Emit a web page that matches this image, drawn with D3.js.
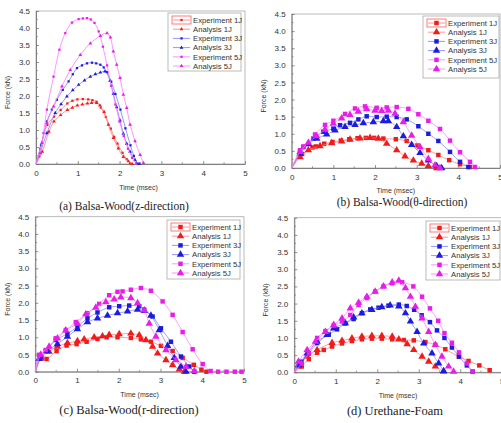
<!DOCTYPE html>
<html><head><meta charset="utf-8">
<script src="https://cdn.jsdelivr.net/npm/d3@7"></script>
<style>body{margin:0;background:#fff}svg{display:block}</style>
</head><body><svg id="c" width="501" height="423"></svg>
<script>
const xTicks=[0,1,2,3,4,5];
const yTicks=[0,0.5,1.0,1.5,2.0,2.5,3.0,3.5,4.0,4.5];
const seriesNames=["Experiment 1J","Analysis 1J","Experiment 3J","Analysis 3J","Experiment 5J","Analysis 5J"];
const captions=["(a) Balsa-Wood(z-direction)","(b) Balsa-Wood(\u03b8-direction)","(c) Balsa-Wood(r-direction)","(d) Urethane-Foam"];
const xLabel="Time (msec)", yLabel="Force (kN)";

// (a) Balsa-Wood z-direction
const aExp1=[[0,0],[0.1,0.45],[0.27,1.15],[0.43,1.39],[0.59,1.59],[0.75,1.78],[0.87,1.86],[0.99,1.9],[1.12,1.91],[1.25,1.9],[1.35,1.88],[1.45,1.83],[1.55,1.66],[1.67,1.38],[1.79,1.04],[1.87,0.8],[1.95,0.6],[2.07,0.33],[2.17,0.14],[2.25,0.02]];
const aAna1=[[0,0],[0.15,0.36],[0.31,0.95],[0.43,1.25],[0.59,1.44],[0.75,1.59],[0.87,1.66],[0.99,1.72],[1.11,1.75],[1.23,1.78],[1.33,1.8],[1.45,1.8],[1.53,1.72],[1.63,1.53],[1.73,1.16],[1.85,0.77],[1.97,0.46],[2.09,0.21],[2.21,0.08],[2.3,0]];
const aExp3=[[0,0],[0.12,0.55],[0.26,1.25],[0.38,1.6],[0.5,1.89],[0.64,2.18],[0.78,2.43],[0.88,2.64],[0.98,2.82],[1.1,2.9],[1.22,2.96],[1.34,2.98],[1.44,2.96],[1.54,2.92],[1.62,2.84],[1.7,2.7],[1.8,2.42],[1.9,2.06],[2.02,1.6],[2.14,1.05],[2.26,0.55],[2.34,0.24],[2.42,0.02]];
const aAna3=[[0,0],[0.1,0.32],[0.26,0.91],[0.46,1.5],[0.6,1.76],[0.74,1.99],[0.88,2.17],[1.02,2.33],[1.16,2.46],[1.3,2.57],[1.42,2.64],[1.54,2.69],[1.65,2.72],[1.77,2.45],[1.85,2.06],[1.93,1.67],[2.01,1.28],[2.09,0.89],[2.17,0.6],[2.25,0.36],[2.37,0.11],[2.47,0]];
const aExp5=[[0,0],[0.08,0.22],[0.18,0.91],[0.26,1.6],[0.42,2.57],[0.56,3.36],[0.7,3.85],[0.86,4.16],[1.02,4.26],[1.12,4.28],[1.22,4.29],[1.31,4.25],[1.4,4.15],[1.5,3.9],[1.6,3.45],[1.7,2.9],[1.8,2.3],[1.9,1.75],[2.0,1.25],[2.1,0.82],[2.2,0.45],[2.3,0.18],[2.4,0.02]];
const aAna5=[[0,0],[0.14,0.62],[0.26,1.2],[0.42,1.69],[0.62,2.28],[0.82,2.77],[1.06,3.21],[1.3,3.55],[1.54,3.77],[1.7,3.85],[1.78,3.72],[1.85,3.31],[1.93,2.92],[2.01,2.53],[2.09,2.04],[2.17,1.65],[2.25,1.16],[2.37,0.67],[2.49,0.27],[2.57,0.03]];

// (b) Balsa-Wood theta-direction
const bExp1=[[0,0],[0.2,0.38],[0.25,0.41],[0.5,0.6],[0.58,0.63],[0.78,0.71],[0.98,0.76],[1.18,0.8],[1.38,0.84],[1.58,0.87],[1.78,0.88],[1.98,0.88],[2.2,0.86],[2.5,0.84],[2.76,0.79],[3.02,0.66],[3.28,0.52],[3.52,0.38],[3.78,0.23],[4.04,0.11],[4.28,0.03]];
const bAna1=[[0,0],[0.2,0.32],[0.4,0.52],[0.68,0.64],[0.96,0.73],[1.2,0.78],[1.4,0.83],[1.64,0.87],[1.88,0.88],[2.08,0.86],[2.28,0.71],[2.52,0.52],[2.72,0.34],[2.92,0.22],[3.12,0.13],[3.28,0.06],[3.48,0]];
const bExp3=[[0,0],[0.2,0.47],[0.28,0.61],[0.52,0.86],[0.76,1.06],[1.0,1.15],[1.16,1.25],[1.4,1.32],[1.6,1.42],[1.8,1.51],[2.04,1.49],[2.28,1.5],[2.52,1.49],[2.76,1.42],[3.04,1.22],[3.28,1.0],[3.52,0.79],[3.8,0.47],[4.04,0.18],[4.24,0.03]];
const bAna3=[[0,0],[0.2,0.42],[0.4,0.7],[0.6,0.86],[0.84,0.98],[1.04,1.1],[1.28,1.2],[1.52,1.26],[1.72,1.31],[1.96,1.34],[2.2,1.37],[2.32,1.37],[2.52,1.2],[2.68,0.93],[2.88,0.68],[3.08,0.44],[3.28,0.22],[3.48,0.06],[3.6,0]];
const bExp5=[[0,0],[0.2,0.52],[0.28,0.63],[0.56,0.98],[0.8,1.26],[1.0,1.38],[1.28,1.58],[1.52,1.74],[1.76,1.8],[2.04,1.76],[2.28,1.77],[2.52,1.78],[2.8,1.73],[3.04,1.57],[3.28,1.38],[3.56,1.14],[3.8,0.8],[4.04,0.46],[4.28,0.18],[4.4,0.03]];
const bAna5=[[0,0],[0.2,0.47],[0.4,0.74],[0.6,0.93],[0.8,1.12],[1.0,1.3],[1.2,1.45],[1.4,1.55],[1.6,1.65],[1.8,1.72],[2.0,1.68],[2.16,1.67],[2.32,1.68],[2.48,1.59],[2.68,1.34],[2.88,0.95],[3.08,0.61],[3.28,0.27],[3.44,0.08],[3.56,0]];

// (c) Balsa-Wood r-direction
const cExp1=[[0,0],[0.15,0.39],[0.27,0.37],[0.51,0.6],[0.75,0.76],[0.99,0.8],[1.23,0.87],[1.49,0.95],[1.71,1.0],[1.97,1.0],[2.29,0.98],[2.53,0.94],[2.77,0.87],[3.01,0.75],[3.29,0.6],[3.53,0.4],[3.8,0.2],[3.98,0.06],[4.1,0]];
const cAna1=[[0,0],[0.13,0.39],[0.33,0.58],[0.53,0.73],[0.77,0.83],[1.01,0.89],[1.17,0.94],[1.41,1.0],[1.61,1.03],[1.77,1.07],[2.01,1.09],[2.29,1.11],[2.49,1.06],[2.65,0.92],[2.81,0.73],[2.93,0.53],[3.13,0.34],[3.29,0.19],[3.45,0.07],[3.57,0]];
const cExp3=[[0,0],[0.13,0.44],[0.25,0.6],[0.49,0.92],[0.77,1.1],[1.01,1.31],[1.25,1.55],[1.49,1.72],[1.77,1.87],[2.01,1.9],[2.25,1.92],[2.49,1.9],[2.61,1.8],[2.81,1.6],[3.01,1.26],[3.25,0.87],[3.49,0.44],[3.69,0.15],[3.81,0]];
const cAna3=[[0,0],[0.09,0.37],[0.29,0.6],[0.53,0.8],[0.77,1.02],[1.01,1.24],[1.25,1.44],[1.49,1.55],[1.73,1.63],[1.97,1.7],[2.21,1.75],[2.45,1.8],[2.61,1.77],[2.77,1.63],[2.97,1.21],[3.17,0.75],[3.33,0.4],[3.49,0.15],[3.61,0]];
const cExp5=[[0,0],[0.09,0.49],[0.25,0.63],[0.49,0.97],[0.73,1.21],[0.97,1.44],[1.25,1.7],[1.53,1.97],[1.77,2.22],[1.97,2.32],[2.09,2.33],[2.29,2.38],[2.53,2.43],[2.77,2.35],[3.05,2.04],[3.29,1.65],[3.53,1.15],[3.77,0.65],[4.01,0.22],[4.2,0.02],[4.38,0],[4.58,0],[4.78,0],[4.94,0]];
const cAna5=[[0,0],[0.13,0.5],[0.33,0.73],[0.53,0.97],[0.73,1.2],[1.01,1.4],[1.21,1.67],[1.45,1.86],[1.69,2.02],[1.89,2.1],[2.05,2.16],[2.29,2.14],[2.45,1.99],[2.61,1.78],[2.73,1.4],[2.89,1.02],[3.13,0.63],[3.37,0.34],[3.61,0.15],[3.81,0.02]];

// (d) Urethane-Foam
const dExp1=[[0,0],[0.18,0.17],[0.35,0.38],[0.55,0.57],[0.71,0.65],[0.91,0.75],[1.15,0.84],[1.39,0.91],[1.63,0.96],[1.87,0.98],[2.11,0.98],[2.36,0.96],[2.64,0.94],[2.88,0.93],[3.16,0.88],[3.4,0.8],[3.64,0.67],[3.97,0.45],[4.2,0.33],[4.46,0.2],[4.71,0.06]];
const dAna1=[[0,0],[0.1,0.17],[0.31,0.46],[0.55,0.65],[0.91,0.86],[1.15,0.92],[1.39,0.99],[1.63,1.04],[1.87,1.06],[2.11,1.06],[2.36,1.04],[2.52,0.96],[2.72,0.82],[2.88,0.65],[3.08,0.46],[3.24,0.31],[3.4,0.17],[3.6,0.02]];
const dExp3=[[0,0],[0.18,0.31],[0.35,0.55],[0.55,0.85],[0.83,1.1],[1.03,1.25],[1.23,1.42],[1.43,1.55],[1.63,1.72],[1.83,1.83],[2.03,1.88],[2.27,1.94],[2.52,1.97],[2.71,1.93],[2.89,1.82],[3.07,1.66],[3.27,1.46],[3.44,1.22],[3.62,1.0],[3.8,0.72],[3.97,0.46],[4.16,0.2],[4.3,0.02]];
const dAna3=[[0,0],[0.1,0.21],[0.31,0.55],[0.55,0.89],[0.79,1.09],[0.95,1.28],[1.23,1.43],[1.43,1.6],[1.63,1.72],[1.87,1.82],[2.11,1.9],[2.31,1.95],[2.52,1.92],[2.68,1.72],[2.8,1.48],[2.96,1.18],[3.12,0.84],[3.32,0.55],[3.48,0.26],[3.6,0.04]];
const dExp5=[[0,0],[0.18,0.26],[0.35,0.55],[0.55,1.0],[0.75,1.2],[0.95,1.36],[1.15,1.48],[1.35,1.67],[1.55,1.96],[1.75,2.16],[1.95,2.35],[2.15,2.5],[2.36,2.59],[2.6,2.62],[2.87,2.5],[3.08,2.2],[3.27,1.86],[3.47,1.5],[3.62,1.14],[3.8,0.86],[3.97,0.58],[4.16,0.26],[4.3,0.02]];
const dAna5=[[0,0],[0.1,0.31],[0.31,0.65],[0.51,0.89],[0.75,1.18],[0.95,1.38],[1.15,1.57],[1.35,1.86],[1.55,2.03],[1.75,2.2],[1.95,2.35],[2.15,2.5],[2.36,2.62],[2.52,2.67],[2.68,2.45],[2.8,2.2],[2.92,1.91],[3.08,1.57],[3.24,1.18],[3.4,0.8],[3.56,0.46],[3.72,0.17],[3.84,0.02]];

const markerCols=["#f01c1c","#f01c1c","#1c1ce0","#1c1ce0","#e81ee8","#e81ee8"];
const lineCols=["#ff7a7a","#ff7a7a","#7a7aff","#7a7aff","#ff7aff","#ff7aff"];
const shapes=[d3.symbolSquare,d3.symbolTriangle,d3.symbolSquare,d3.symbolTriangle,d3.symbolSquare,d3.symbolTriangle];

const panels=[
 {px:[36,245],py:[164,11],data:[aExp1,aAna1,aExp3,aAna3,aExp5,aAna5],small:true,cap:captions[0],capPos:[124,210],capSize:11.5,timeY:190,forceX:10,leg:[168,13,73,58]},
 {px:[291.7,500],py:[168,14],data:[bExp1,bAna1,bExp3,bAna3,bExp5,bAna5],small:false,cap:captions[1],capPos:[402,206],capSize:11.5,timeY:193,forceX:266,leg:[423,16,76,62]},
 {px:[35.3,244],py:[371.7,216.7],data:[cExp1,cAna1,cExp3,cAna3,cExp5,cAna5],small:false,cap:captions[2],capPos:[129,414],capSize:12.5,timeY:397,forceX:10,leg:[167,220,73,59]},
 {px:[294.3,501.7],py:[372.3,217.7],data:[dExp1,dAna1,dExp3,dAna3,dExp5,dAna5],small:false,cap:captions[3],capPos:[395,415],capSize:12.5,timeY:398,forceX:268,leg:[426,221,74,59]}
];

const svg=d3.select("#c");
const font="Liberation Sans, Arial, sans-serif";

panels.forEach(p=>{
  const x=d3.scaleLinear().domain([0,5]).range(p.px);
  const y=d3.scaleLinear().domain([0,4.5]).range(p.py);
  const g=svg.append("g");
  g.append("rect").attr("x",p.px[0]).attr("y",p.py[1]).attr("width",p.px[1]-p.px[0]).attr("height",p.py[0]-p.py[1])
    .attr("fill","none").attr("stroke","#aaa").attr("stroke-width",0.8);
  const xa=d3.axisBottom(x).tickValues(xTicks).tickFormat(d3.format("d")).tickSizeInner(-3).tickSizeOuter(0).tickPadding(6);
  const gx=g.append("g").attr("transform",`translate(0,${p.py[0]})`).call(xa);
  const xMinor=d3.range(0.5,5,1);
  gx.selectAll(".mn").data(xMinor).enter().append("line").attr("x1",d=>x(d)).attr("x2",d=>x(d)).attr("y1",0).attr("y2",-1.8).attr("stroke","#777").attr("stroke-width",0.7);
  const ya=d3.axisLeft(y).tickValues(yTicks).tickFormat(d3.format(".1f")).tickSizeInner(-3).tickSizeOuter(0).tickPadding(6);
  const gy=g.append("g").attr("transform",`translate(${p.px[0]},0)`).call(ya);
  const yMinor=d3.range(0.25,4.5,0.5);
  gy.selectAll(".mn").data(yMinor).enter().append("line").attr("y1",d=>y(d)).attr("y2",d=>y(d)).attr("x1",0).attr("x2",1.8).attr("stroke","#777").attr("stroke-width",0.7);
  [gx,gy].forEach(a=>{
    a.select(".domain").attr("stroke","#666").attr("stroke-width",0.8);
    a.selectAll(".tick line").attr("stroke","#666").attr("stroke-width",0.7);
    a.selectAll("text").attr("font-family",font).attr("font-size",8).attr("fill","#333");
  });
  g.append("text").attr("x",(p.px[0]+p.px[1])/2-(p.small?2:0)).attr("y",p.timeY).attr("text-anchor","middle")
    .attr("font-family",font).attr("font-size",7).attr("fill","#333").text(xLabel);
  g.append("text").attr("transform",`translate(${p.forceX},${(p.py[0]+p.py[1])/2+5}) rotate(-90)`).attr("text-anchor","middle")
    .attr("font-family",font).attr("font-size",7).attr("fill","#333").text(yLabel);
  svg.append("text").attr("x",p.capPos[0]).attr("y",p.capPos[1]).attr("text-anchor","middle")
    .attr("font-family","Liberation Serif, Times New Roman, serif").attr("font-size",p.capSize).attr("fill","#222").text(p.cap);
  const line=d3.line().x(d=>x(d[0])).y(d=>y(d[1])).curve(d3.curveCatmullRom.alpha(0.5));
  const sq=p.small?5:20, tr=p.small?6:24;
  p.data.forEach((ser,i)=>{
    g.append("path").attr("d",line(ser)).attr("fill","none").attr("stroke",lineCols[i]).attr("stroke-width",p.small?0.8:0.7);
    g.selectAll(null).data(ser.slice(1)).enter().append("path")
      .attr("transform",d=>`translate(${x(d[0])},${y(d[1])})`)
      .attr("d",d3.symbol().type(shapes[i]).size(i%2===0?sq:tr))
      .attr("fill",markerCols[i]);
  });
  const [lx,ly,lw,lh]=p.leg;
  const lg=g.append("g");
  lg.append("rect").attr("x",lx).attr("y",ly).attr("width",lw).attr("height",lh).attr("fill","#fff").attr("stroke","#aaa").attr("stroke-width",0.8);
  seriesNames.forEach((n,i)=>{
    const ry=ly+7+i*9.2;
    lg.append("line").attr("x1",lx+5).attr("x2",lx+22).attr("y1",ry).attr("y2",ry).attr("stroke",lineCols[i]).attr("stroke-width",0.8);
    lg.append("path").attr("transform",`translate(${lx+13.5},${ry})`).attr("d",d3.symbol().type(shapes[i]).size(i%2===0?sq:tr)).attr("fill",markerCols[i]);
    if(i===0) lg.append("rect").attr("x",lx+4).attr("y",ry-4).attr("width",19).attr("height",8).attr("fill","none").attr("stroke","#f44").attr("stroke-width",0.7);
    lg.append("text").attr("x",lx+25).attr("y",ry+2.8).attr("font-family",font).attr("font-size",7.7).attr("fill","#333").text(n);
  });
});
</script></body></html>
